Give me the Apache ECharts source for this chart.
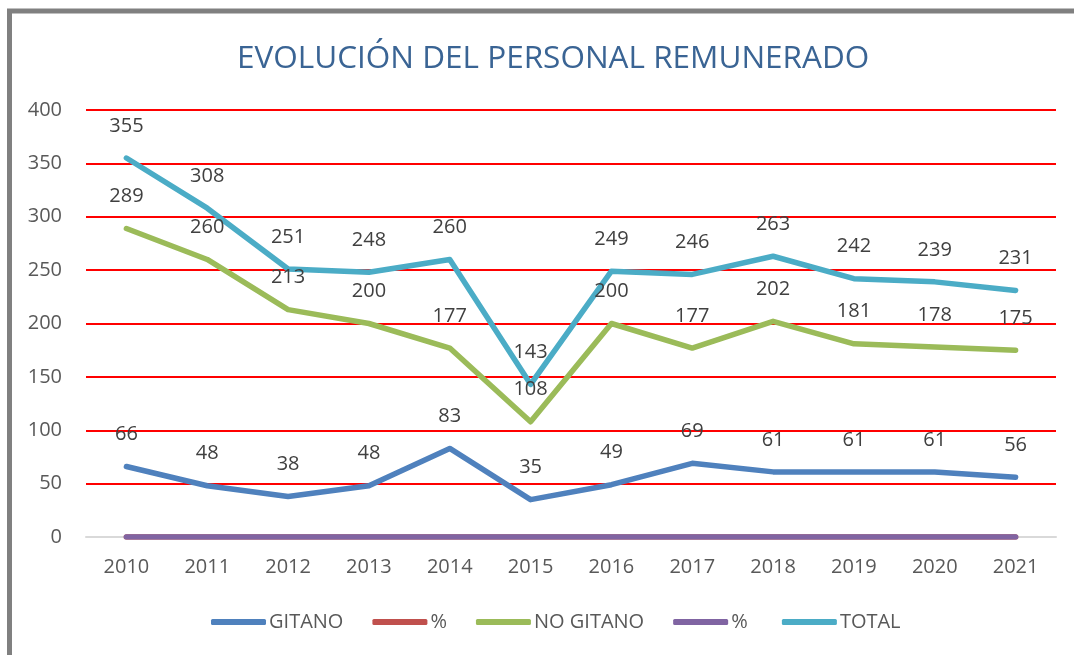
<!DOCTYPE html>
<html>
<head>
<meta charset="utf-8">
<script src="https://cdn.jsdelivr.net/npm/echarts@6/dist/echarts.min.js"></script>
<style>
  html, body { margin: 0; padding: 0; background: #fff; }
  #chart { width: 1074px; height: 655px; }
</style>
</head>
<body>
<div id="chart"></div>
<script>
const years = ["2010", "2011", "2012", "2013", "2014", "2015", "2016", "2017", "2018", "2019", "2020", "2021"];
const gitano = [66, 48, 38, 48, 83, 35, 49, 69, 61, 61, 61, 56];
const pctGitano = [0, 0, 0, 0, 0, 0, 0, 0, 0, 0, 0, 0];
const noGitano = [289, 260, 213, 200, 177, 108, 200, 177, 202, 181, 178, 175];
const pctNoGitano = [0, 0, 0, 0, 0, 0, 0, 0, 0, 0, 0, 0];
const total = [355, 308, 251, 248, 260, 143, 249, 246, 263, 242, 239, 231];

const font = "'Open Sans', sans-serif";

function lineSeries(name, data, color, showLabel) {
  return {
    name: name,
    type: "line",
    data: data,
    symbol: "circle",
    symbolSize: 0,
    showSymbol: true,
    lineStyle: { width: 5.5, color: color, cap: "round", join: "round" },
    itemStyle: { color: color },
    label: {
      show: showLabel,
      position: "top",
      distance: 22,
      fontFamily: font,
      fontSize: 20,
      color: "#404040",
    },
  };
}

const chart = echarts.init(document.getElementById("chart"));
chart.setOption({
  animation: false,
  title: {
    text: "EVOLUCIÓN DEL PERSONAL REMUNERADO",
    left: 232,
    top: 38,
    textStyle: {
      fontFamily: font,
      fontWeight: "normal",
      fontSize: 31.5,
      color: "#3a6494",
    },
  },
  graphic: [
    {
      type: "rect",
      shape: { x: 9.5, y: 11, width: 1200, height: 800 },
      style: { fill: "none", stroke: "#808080", lineWidth: 5 },
      silent: true,
    },
  ],
  grid: { left: 86, right: 18, top: 110, bottom: 118 },
  legend: {
    bottom: 18,
    left: 206,
    icon: "roundRect",
    itemWidth: 55,
    itemHeight: 6,
    itemGap: 29,
    textStyle: { fontFamily: font, fontSize: 20, color: "#595959", padding: [0, 0, 0, -2] },
  },
  xAxis: {
    type: "category",
    data: years,
    boundaryGap: true,
    axisLine: { lineStyle: { color: "#d9d9d9", width: 2 } },
    axisTick: { show: false },
    axisLabel: { fontFamily: font, fontSize: 20, color: "#595959", margin: 20 },
  },
  yAxis: {
    type: "value",
    min: 0,
    max: 400,
    interval: 50,
    axisLine: { show: false },
    axisTick: { show: false },
    splitLine: { lineStyle: { color: "#ff0000", width: 2 } },
    axisLabel: { fontFamily: font, fontSize: 20, color: "#595959", margin: 24 },
  },
  series: [
    lineSeries("GITANO", gitano, "#4f81bd", true),
    lineSeries("%", pctGitano, "#c0504d", false),
    lineSeries("NO GITANO", noGitano, "#9bbb59", true),
    lineSeries("% ", pctNoGitano, "#8064a2", false),
    lineSeries("TOTAL", total, "#4bacc6", true),
  ],
});
</script>
</body>
</html>
